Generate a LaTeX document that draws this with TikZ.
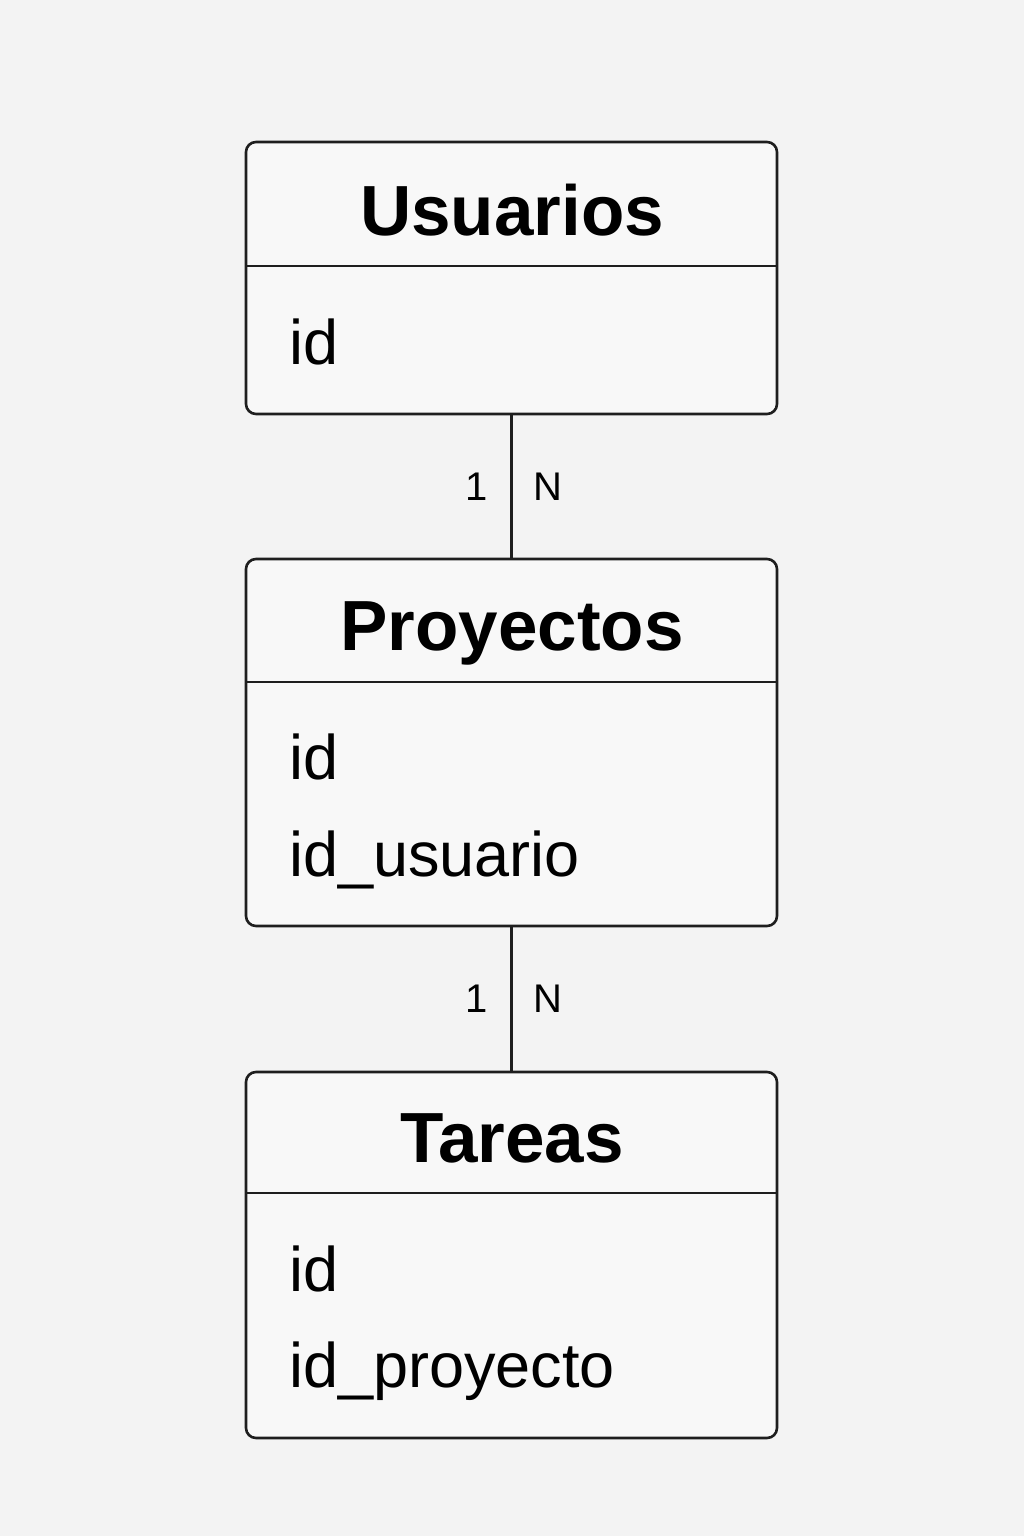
\documentclass[tikz,border=0pt]{standalone}
\usepackage{fontspec}
\setmainfont{Liberation Sans}
\definecolor{bg}{HTML}{F3F3F3}
\definecolor{boxfill}{HTML}{F8F8F8}
\definecolor{ink}{HTML}{1E1E1E}
\begin{document}
\begin{tikzpicture}[x=1pt,y=-1pt,
  tbox/.style={draw=ink, line width=2.6pt, fill=boxfill, rounded corners=10pt, rectangle, minimum width=531pt, inner sep=0pt, outer sep=0pt},
  ttitle/.style={anchor=base, inner sep=0pt, text=black, font=\fontsize{71}{80}\selectfont\bfseries},
  tfield/.style={anchor=base west, inner sep=0pt, text=black, font=\fontsize{63}{72}\selectfont},
  card/.style={anchor=base, inner sep=0pt, text=black, font=\fontsize{40}{48}\selectfont},
  divider/.style={draw=ink, line width=2.6pt},
  link/.style={draw=ink, line width=2.6pt}]
\fill[bg] (0,0) rectangle (1024,1536);
\useasboundingbox (0,0) rectangle (1024,1536);
% boxes
\node[tbox, minimum height=272pt] (usu) at (511.5,278) {};
\node[tbox, minimum height=367pt] (pro) at (511.5,742.5) {};
\node[tbox, minimum height=366pt] (tar) at (511.5,1255) {};
% dividers
\draw[divider] (usu.west |- 0,266) -- (usu.east |- 0,266);
\draw[divider] (pro.west |- 0,682) -- (pro.east |- 0,682);
\draw[divider] (tar.west |- 0,1193) -- (tar.east |- 0,1193);
% titles
\node[ttitle] (tusu) at (512,235) {Usuarios};
\node[ttitle] (tpro) at (512,650) {Proyectos};
\node[ttitle] (ttar) at (512,1162) {Tareas};
% fields
\node[tfield] (f1) at (289,364) {id};
\node[tfield] (f2) at (289,779) {id};
\node[tfield] (f3) at (289,876) {id\_usuario};
\node[tfield] (f4) at (289,1291) {id};
\node[tfield] (f5) at (289,1387) {id\_proyecto};
% connectors
\draw[link] (usu.south) -- (pro.north);
\draw[link] (pro.south) -- (tar.north);
% cardinalities
\node[card] (c1a) at (477,500) {1};
\node[card] (c1b) at (548,500) {N};
\node[card] (c2a) at (477,1012) {1};
\node[card] (c2b) at (548,1012) {N};
\end{tikzpicture}
\end{document}
